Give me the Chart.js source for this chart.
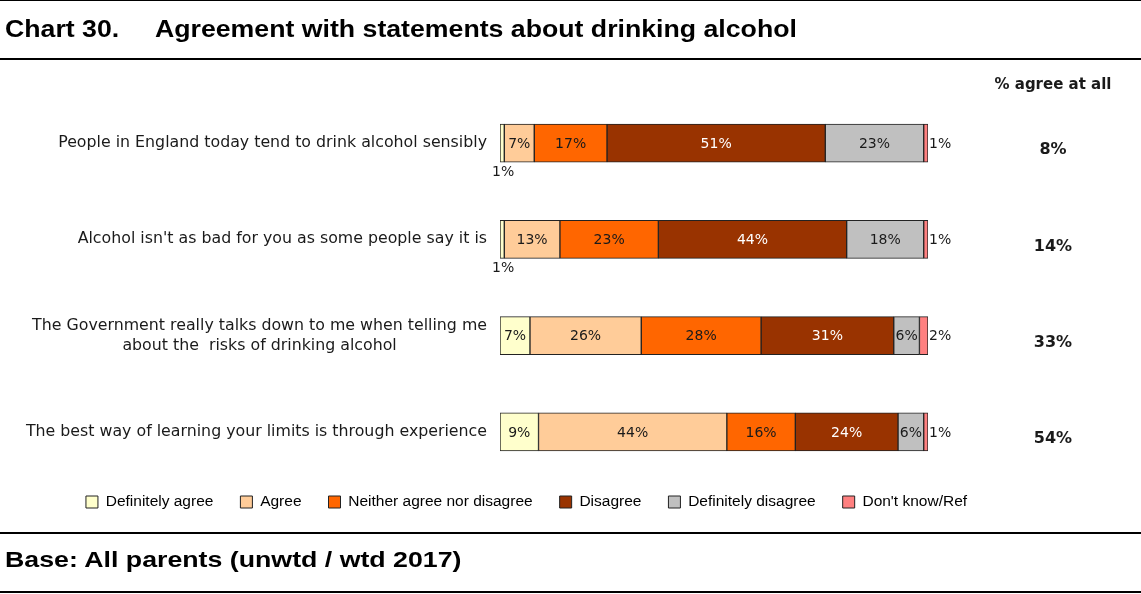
<!DOCTYPE html>
<html>
<head>
<meta charset="utf-8">
<title>Agreement with statements about drinking alcohol</title>
<script src="https://cdn.jsdelivr.net/npm/chart.js@4.4.1/dist/chart.umd.min.js"></script>
<style>
    html, body { margin: 0; padding: 0; background: #fff; }
    #page { position: relative; width: 1141px; height: 594px; overflow: hidden; }
    #agree_plot_container { position: absolute; left: 0; top: 0; width: 1141px; height: 594px; }
    .rule { position: absolute; left: 0; width: 1141px; background: #000; }
    .heading {
        position: absolute;
        font-family: "Liberation Sans", Arial, sans-serif;
        font-weight: bold;
        color: #000;
        white-space: nowrap;
        line-height: 1;
        transform-origin: left center;
    }
</style>
</head>
<body>
<div id="page">
    <div id="agree_plot_container"><canvas id="agree_plot"></canvas></div>

    <div class="rule" style="top:0;height:1px"></div>
    <div class="heading" style="left:5px;top:18px;font-size:23px;transform:scaleX(1.16)">Chart 30.</div>
    <div class="heading" style="left:155px;top:18px;font-size:23px;transform:scaleX(1.16)">Agreement with statements about drinking alcohol</div>
    <div class="rule" style="top:58px;height:2px"></div>

    <div class="rule" style="top:532px;height:2px"></div>
    <div class="heading" style="left:5px;top:549px;font-size:22px;transform:scaleX(1.215)">Base: All parents (unwtd / wtd 2017)</div>
    <div class="rule" style="top:591px;height:2px"></div>
</div>

<script>
// statements asked about (one per bar)
const statements = [
    "People in England today tend to drink alcohol sensibly",
    "Alcohol isn't as bad for you as some people say it is",
    ["The Government really talks down to me when telling me", "about the  risks of drinking alcohol"],
    "The best way of learning your limits is through experience"
];

const responseLabels = [
    "Definitely agree", "Agree", "Neither agree nor disagree",
    "Disagree", "Definitely disagree", "Don't know/Ref"
];
const responseColors = ["#FFFFCC", "#FFCC99", "#FF6600", "#993300", "#C0C0C0", "#FF8080"];

// % of parents giving each answer, per statement
const definitelyAgree = [1, 1, 7, 9];
const agree = [7, 13, 26, 44];
const neither = [17, 23, 28, 16];
const disagree = [51, 44, 31, 24];
const definitelyDisagree = [23, 18, 6, 6];
const dontKnow = [1, 1, 2, 1];

// right hand column
const agreeAtAllTitle = "% agree at all";
const agreeAtAll = ["8%", "14%", "33%", "54%"];

const seriesValues = [definitelyAgree, agree, neither, disagree, definitelyDisagree, dontKnow];

const font_family = '"DejaVu Sans", Verdana, sans-serif';
const STATEMENT_AXIS_WIDTH = 500;
const AGREE_COLUMN_WIDTH = 213;  // room right of the bars for the "% agree" column
const AGREE_COLUMN_X = 1053;     // centre of that column
const LEGEND_SPAN = 1053;        // legend is centred over 0..LEGEND_SPAN
const LEGEND_ROW_Y = 502;

// statement text + segment values + right hand column
const barText = {
    id: "barText",
    afterDatasetsDraw(chart) {
        const ctx = chart.ctx;
        const yScale = chart.scales.y;
        ctx.save();
        ctx.textBaseline = "middle";

        // statements: lines centred on each other, block right aligned to the bars
        ctx.font = "15.8px " + font_family;
        ctx.fillStyle = "#1a1a1a";
        ctx.textAlign = "center";
        statements.forEach((s, i) => {
            const lines = [].concat(s);
            const w = Math.max(...lines.map(l => ctx.measureText(l).width));
            const cx = yScale.right - 13 - w / 2;
            const cy = yScale.getPixelForValue(i);
            lines.forEach((l, j) => ctx.fillText(l, cx, cy + (j - (lines.length - 1) / 2) * 20));
        });

        // values on the segments
        ctx.font = "14px " + font_family;
        const last = chart.data.datasets.length - 1;
        chart.data.datasets.forEach((ds, d) => {
            chart.getDatasetMeta(d).data.forEach((bar, i) => {
                const v = ds.data[i];
                const p = bar.getProps(["x", "y", "base", "height"], true);
                const txt = v + "%";
                if (d === 0 && v <= 1) {
                    // too thin to hold its label: put it underneath
                    ctx.textAlign = "center";
                    ctx.fillStyle = "#1a1a1a";
                    ctx.fillText(txt, (p.x + p.base) / 2 + 1, p.y + p.height / 2 + 10);
                } else if (d === last) {
                    ctx.textAlign = "left";
                    ctx.fillStyle = "#1a1a1a";
                    ctx.fillText(txt, p.x + 1, p.y + 1);
                } else {
                    ctx.textAlign = "center";
                    ctx.fillStyle = d === 3 ? "#ffffff" : "#1a1a1a";
                    ctx.fillText(txt, (p.x + p.base) / 2, p.y + 1);
                }
            });
        });

        // "% agree at all" column
        ctx.fillStyle = "#1a1a1a";
        ctx.textAlign = "center";
        ctx.font = "bold 15px " + font_family;
        ctx.fillText(agreeAtAllTitle, AGREE_COLUMN_X, chart.chartArea.top - 10);
        ctx.font = "bold 16px " + font_family;
        agreeAtAll.forEach((txt, i) => {
            ctx.fillText(txt, AGREE_COLUMN_X, yScale.getPixelForValue(i) + 7);
        });
        ctx.restore();
    }
};

// legend row sits a bit higher and is centred on the text+bars block
const legendPlace = {
    id: "legendPlace",
    afterLayout(chart) {
        const lg = chart.legend;
        const opts = lg.options.labels;
        const itemHeight = Math.max(opts.font.size, opts.boxHeight);
        const shift = LEGEND_ROW_Y - (lg.top + opts.padding + itemHeight / 2);
        lg.top += shift;
        lg.bottom += shift;
        lg.left = 0;
        lg.right = LEGEND_SPAN;
        lg.width = LEGEND_SPAN;
    }
};

function createAgreePlot() {
    const datasets = responseLabels.map((label, k) => ({
        label: label,
        data: seriesValues[k],
        backgroundColor: responseColors[k],
        borderColor: "#222222",
        borderWidth: 1,
        borderSkipped: false,
        barThickness: 38
    }));

    const config = {
        type: "bar",
        data: {
            labels: statements,
            datasets: datasets
        },
        options: {
            indexAxis: "y",
            responsive: true,
            maintainAspectRatio: false,
            animation: false,
            layout: {
                padding: { left: 0, right: 0, top: 95, bottom: 61.5 }
            },
            plugins: {
                tooltip: { enabled: false },
                legend: {
                    position: "bottom",
                    labels: {
                        boxWidth: 12,
                        boxHeight: 12,
                        padding: 27,
                        color: "#000",
                        font: { family: '"Liberation Sans", Arial, sans-serif', size: 15.5 }
                    }
                }
            },
            scales: {
                x: {
                    stacked: true,
                    min: 0,
                    max: 100,
                    display: false
                },
                y: {
                    stacked: true,
                    grid: { display: false, drawTicks: false },
                    border: { display: false },
                    ticks: { display: false },
                    afterFit: (scale) => { scale.width = STATEMENT_AXIS_WIDTH; }
                },
                // empty axis keeping the column right of the bars free
                agreeColumn: {
                    type: "category",
                    position: "right",
                    grid: { display: false, drawTicks: false },
                    border: { display: false },
                    ticks: { display: false },
                    afterFit: (scale) => { scale.width = AGREE_COLUMN_WIDTH; }
                }
            }
        },
        plugins: [barText, legendPlace]
    };

    const ctx = document.getElementById("agree_plot");
    window.agree_chart = new Chart(ctx, config);
}

createAgreePlot();
</script>
</body>
</html>
